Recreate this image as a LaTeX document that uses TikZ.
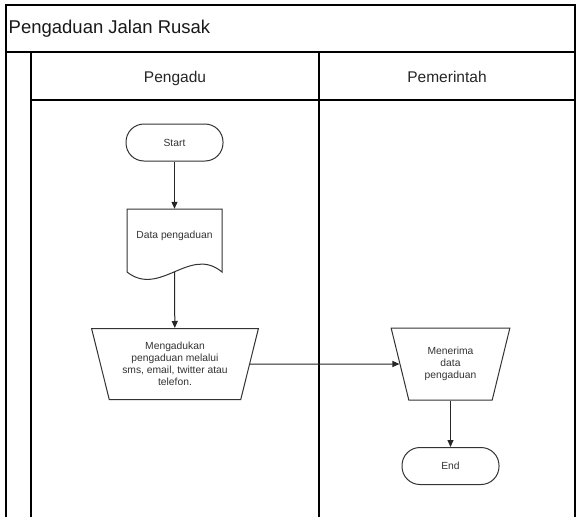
\documentclass[tikz,border=0pt]{standalone}
\usepackage{fontspec}
\setmainfont{Liberation Sans}
\usetikzlibrary{shapes.geometric,arrows.meta}
\begin{document}
\begin{tikzpicture}[x=1pt,y=-1pt,
  frame/.style={line width=1.2pt,draw=black},
  box/.style={draw=black!80,line width=1pt,font=\fontsize{10.3}{12}\selectfont,text=black!80,align=center},
  term/.style={box,rectangle,rounded corners=18pt,minimum width=97pt,minimum height=37pt,inner sep=0pt},
  trap/.style={box,trapezium,shape border rotate=180,trapezium stretches=true,trapezium angle=72,inner sep=0pt},
  conn/.style={draw=black!85,line width=1pt,-{Triangle[length=7pt,width=6pt]}},
  title/.style={font=\fontsize{18.5}{22}\selectfont,text=black!90,inner sep=0pt},
  lane/.style={font=\fontsize{15.5}{18}\selectfont,text=black!85,inner sep=0pt}
]
\useasboundingbox (0,0) rectangle (578,517);
\fill[white] (0,0) rectangle (578,517);
% frame
\draw[frame] (6,517) -- (6,5) -- (575,5) -- (575,517);
\draw[frame] (6,52) -- (575,52);
\draw[frame] (31,52) -- (31,517);
\draw[frame] (31,100) -- (575,100);
\draw[frame] (319,52) -- (319,517);
% texts
\node[title,anchor=base west] (ttl) at (8.5,33) {Pengaduan Jalan Rusak};
\node[lane,anchor=base] (l1) at (175,82) {Pengadu};
\node[lane,anchor=base] (l2) at (447,82) {Pemerintah};
% nodes
\node[term] (start) at (174.5,142.5) {Start};
\node[font=\fontsize{10.3}{12}\selectfont,text=black!80,minimum width=95pt,minimum height=54pt,inner sep=0pt] (doc) at (174.5,236) {Data pengaduan};
\draw[box] (127,209) -- (222,209) -- (222,272) .. controls (190,245) and (160,298) .. (127,272) -- cycle;
\coordinate (docb) at (174.5,272);
\node[trap,minimum width=167pt,minimum height=71pt] (m1) at (175,364) {Mengadukan\\pengaduan melalui\\sms, email, twitter atau\\telefon.};
\node[trap,minimum width=119pt,minimum height=72pt] (m2) at (450.5,364) {Menerima\\data\\pengaduan};
\node[term] (end) at (450.5,466) {End};
% connectors
\draw[conn] (start) -- (doc);
\draw[conn] (docb) -- (m1);
\draw[conn] (m1) -- (m2);
\draw[conn] (m2) -- (end);
\end{tikzpicture}
\end{document}
